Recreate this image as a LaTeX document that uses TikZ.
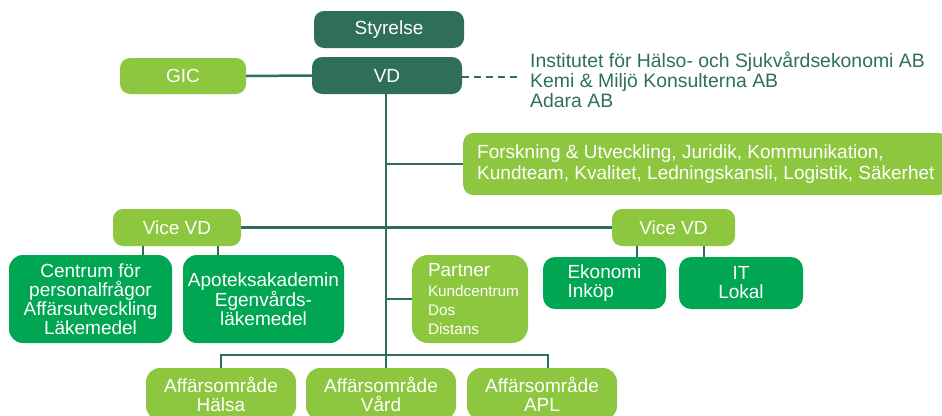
\documentclass[tikz,border=0pt]{standalone}
\usepackage{fontspec}
\setmainfont{Liberation Sans}
\definecolor{dkgreen}{HTML}{2F6F57}
\definecolor{ltgreen}{HTML}{8DC63F}
\definecolor{mdgreen}{HTML}{00A651}
\newcommand{\partsub}[1]{{\fontsize{15.3}{19}\selectfont\hspace*{7pt}#1}}
\begin{document}
\begin{tikzpicture}[x=1pt,y=-1pt,
  base/.style={rounded corners=10pt, text=white, inner sep=0pt, align=center,
    font=\fontsize{19}{19}\selectfont},
  dkbox/.style={base, fill=dkgreen},
  ltbox/.style={base, fill=ltgreen},
  mdbox/.style={base, fill=mdgreen},
  conn/.style={draw=dkgreen, line width=2.5pt}]
\useasboundingbox (0,0) rectangle (942,415);
\clip (0,0) rectangle (942,415);

% nodes
\node[dkbox, minimum width=150, minimum height=37] (sty) at (389,29.5) {Styrelse};
\node[dkbox, minimum width=150, minimum height=37] (vd) at (387,75.5) {VD};
\node[ltbox, minimum width=126, minimum height=36] (gic) at (183,76) {GIC};
\node[anchor=west, inner sep=0pt, align=left, text=dkgreen,
  font=\fontsize{19.4}{20}\selectfont] (subs) at (530,80)
  {Institutet för Hälso- och Sjukvårdsekonomi AB\\Kemi \& Miljö Konsulterna AB\\Adara AB};
\coordinate (dashend) at (518,77);

\node[ltbox, anchor=west, minimum height=62, minimum width=478, inner xsep=14pt, align=left,
  font=\fontsize{19}{21}\selectfont] (fou) at (463,164)
  {Forskning \& Utveckling, Juridik, Kommunikation,\\Kundteam, Kvalitet, Ledningskansli, Logistik, Säkerhet};

\node[ltbox, minimum width=128, minimum height=37] (vvl) at (177,227.5) {Vice VD};
\node[ltbox, minimum width=123, minimum height=37] (vvr) at (673.5,227.5) {Vice VD};

\node[mdbox, minimum width=163, minimum height=88, rounded corners=14pt] (cen) at (90.5,299)
  {Centrum för\\personalfrågor\\Affärsutveckling\\Läkemedel};
\node[mdbox, minimum width=161, minimum height=88, rounded corners=14pt] (apo) at (263.5,299)
  {Apoteksakademin\\Egenvårds-\\läkemedel};

\node[ltbox, rounded corners=16pt, minimum width=116, minimum height=88, align=left] (par) at (470,299)
  {\hspace*{7pt}Partner\\[1pt]
   \partsub{Kundcentrum}\\\partsub{Dos}\\\partsub{Distans}};

\node[mdbox, minimum width=123, minimum height=52, rounded corners=12pt, align=left] (eko) at (604.5,283)
  {Ekonomi\\Inköp};
\node[mdbox, minimum width=124, minimum height=52, rounded corners=12pt] (it) at (741,283)
  {IT\\Lokal};

\coordinate (br) at (386,355);
\node[ltbox, minimum width=150, minimum height=52, rounded corners=14pt] (hal) at (221,394)
  {Affärsområde\\Hälsa};
\node[ltbox, minimum width=150, minimum height=52, rounded corners=14pt] (var) at (381,394)
  {Affärsområde\\Vård};
\node[ltbox, minimum width=150, minimum height=52, rounded corners=14pt] (apl) at (542,394)
  {Affärsområde\\APL};

% connectors
\draw[conn] (gic.east) -- (vd.west);
\draw[draw=dkgreen, line width=2.5pt, dash pattern=on 7pt off 5pt] (vd.east |- dashend) -- (dashend);
\draw[conn] ([xshift=-1pt]vd.south) -- ([xshift=-1pt]vd.south |- br);
\draw[conn] (vd.south |- fou.west) -- (fou.west);
\draw[conn] (vvl.east) -- (vvr.west);
\draw[conn] (vd.south |- par.west) -- (par.west);
\draw[conn] ([xshift=-34pt]vvl.south) -- ([xshift=-34pt]vvl.south |- cen.north);
\draw[conn] ([xshift=41pt]vvl.south) -- ([xshift=41pt]vvl.south |- apo.north);
\draw[conn] ([xshift=-36.5pt]vvr.south) -- ([xshift=-36.5pt]vvr.south |- eko.north);
\draw[conn] ([xshift=30.5pt]vvr.south) -- ([xshift=30.5pt]vvr.south |- it.north);
\draw[conn] (hal.north) -- (hal.north |- br) -- ([xshift=6pt]apl.north |- br) -- ([xshift=6pt]apl.north);
\draw[conn] (br) -- (br |- var.north);
\end{tikzpicture}
\end{document}
